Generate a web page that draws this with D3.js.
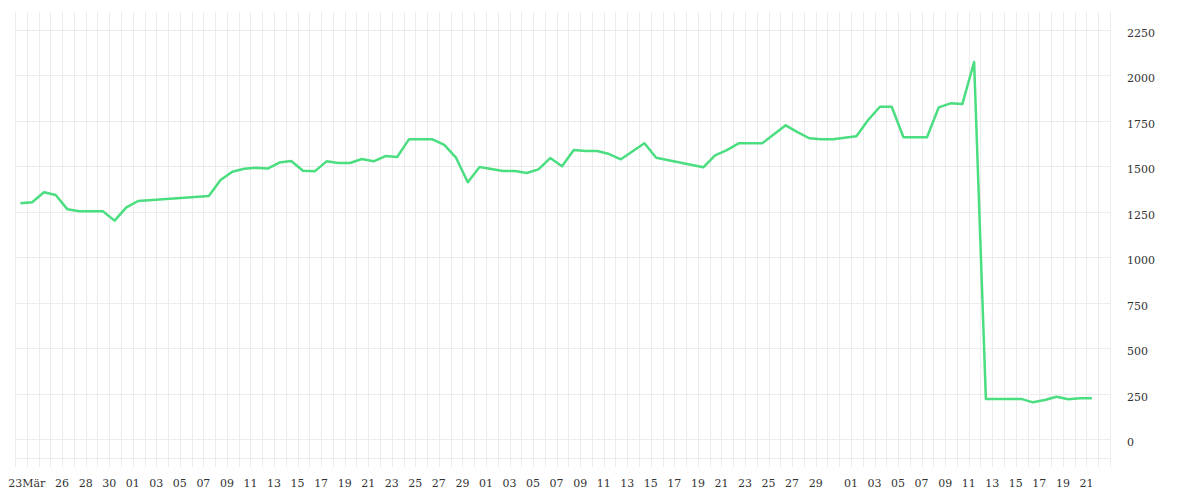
<!DOCTYPE html>
<html>
<head>
<meta charset="utf-8">
<script src="https://cdn.jsdelivr.net/npm/d3@7"></script>
<style>
  html, body { margin: 0; padding: 0; background: #fff; }
  #chart { width: 1200px; height: 500px; }
  text { font-family: "DejaVu Serif", serif; font-size: 11px; fill: #333; }
</style>
</head>
<body>
<div id="chart"></div>
<script>
// Messwerte (ein Wert pro Tag, Lücken = keine Daten)
const dates = [
  '2024-03-22', '2024-03-23', '2024-03-24', '2024-03-25', '2024-03-26', '2024-03-27', '2024-03-28',
  '2024-03-29', '2024-03-30', '2024-03-31', '2024-04-01', '2024-04-07', '2024-04-08', '2024-04-09',
  '2024-04-10', '2024-04-11', '2024-04-12', '2024-04-13', '2024-04-14', '2024-04-15', '2024-04-16',
  '2024-04-17', '2024-04-18', '2024-04-19', '2024-04-20', '2024-04-21', '2024-04-22', '2024-04-23',
  '2024-04-24', '2024-04-25', '2024-04-26', '2024-04-27', '2024-04-28', '2024-04-29', '2024-04-30',
  '2024-05-01', '2024-05-02', '2024-05-03', '2024-05-04', '2024-05-05', '2024-05-06', '2024-05-07',
  '2024-05-08', '2024-05-09', '2024-05-10', '2024-05-11', '2024-05-12', '2024-05-13', '2024-05-14',
  '2024-05-15', '2024-05-19', '2024-05-20', '2024-05-21', '2024-05-22', '2024-05-23', '2024-05-24',
  '2024-05-25', '2024-05-26', '2024-05-27', '2024-05-28', '2024-05-29', '2024-05-30', '2024-05-31',
  '2024-06-01', '2024-06-02', '2024-06-03', '2024-06-04', '2024-06-05', '2024-06-06', '2024-06-07',
  '2024-06-08', '2024-06-09', '2024-06-10', '2024-06-11', '2024-06-12', '2024-06-13', '2024-06-14',
  '2024-06-15', '2024-06-16', '2024-06-17', '2024-06-18', '2024-06-19', '2024-06-20', '2024-06-21'
];
const values = [
  1297, 1303, 1358, 1343, 1264, 1253, 1253,
  1253, 1202, 1275, 1310, 1337, 1425, 1471,
  1487, 1493, 1488, 1521, 1530, 1476, 1473,
  1528, 1519, 1519, 1541, 1528, 1557, 1552,
  1649, 1649, 1649, 1618, 1548, 1413, 1497,
  1486, 1475, 1475, 1464, 1484, 1546, 1501,
  1590, 1585, 1585, 1568, 1539, 1583, 1627,
  1548, 1495, 1561, 1590, 1627, 1627, 1627,
  1677, 1726, 1689, 1655, 1649, 1649, 1658,
  1666, 1755, 1828, 1828, 1660, 1660, 1660,
  1825, 1847, 1843, 2074, 222, 222, 222,
  222, 203, 216, 234, 220, 225, 225
];

// Achsenbeschriftungen
const xTickDates = [
  '2024-03-23', '2024-03-26', '2024-03-28', '2024-03-30',
  '2024-04-01', '2024-04-03', '2024-04-05', '2024-04-07', '2024-04-09', '2024-04-11', '2024-04-13', '2024-04-15',
  '2024-04-17', '2024-04-19', '2024-04-21', '2024-04-23', '2024-04-25', '2024-04-27', '2024-04-29',
  '2024-05-01', '2024-05-03', '2024-05-05', '2024-05-07', '2024-05-09', '2024-05-11', '2024-05-13', '2024-05-15',
  '2024-05-17', '2024-05-19', '2024-05-21', '2024-05-23', '2024-05-25', '2024-05-27', '2024-05-29',
  '2024-06-01', '2024-06-03', '2024-06-05', '2024-06-07', '2024-06-09', '2024-06-11', '2024-06-13', '2024-06-15',
  '2024-06-17', '2024-06-19', '2024-06-21'
];
const xTickLabels = [
  '23Mär', '26', '28', '30',
  '01', '03', '05', '07', '09', '11', '13', '15', '17', '19', '21', '23', '25', '27', '29',
  '01', '03', '05', '07', '09', '11', '13', '15', '17', '19', '21', '23', '25', '27', '29',
  '01', '03', '05', '07', '09', '11', '13', '15', '17', '19', '21'
];
const yTicks = [0, 250, 500, 750, 1000, 1250, 1500, 1750, 2000, 2250];

const width = 1200;
const height = 500;
const plot = { left: 15, right: 1110, top: 12, bottom: 458 };

const parseDay = d3.utcParse('%Y-%m-%d');
const data = dates.map((d, i) => ({
  date: d3.utcHour.offset(parseDay(d), 11),
  value: values[i]
}));

const x = d3.scaleUtc()
  .domain([parseDay('2024-03-22'), parseDay('2024-06-23')])
  .range([plot.left, plot.right]);

const y = d3.scaleLinear()
  .domain([-103, 2349])
  .range([plot.bottom, plot.top]);

const svg = d3.select('#chart').append('svg')
  .attr('width', width)
  .attr('height', height);

const grid = svg.append('g')
  .attr('stroke', '#ececec')
  .attr('stroke-width', 1)
  .attr('shape-rendering', 'crispEdges');

// vertikale Linien: jeder Tag, mit kleinem Strich unter der Fläche
grid.selectAll('line.v')
  .data(d3.utcDay.range(x.domain()[0], d3.utcDay.offset(x.domain()[1], 1)))
  .enter().append('line')
  .attr('class', 'v')
  .attr('x1', d => Math.round(x(d)) + 0.5)
  .attr('x2', d => Math.round(x(d)) + 0.5)
  .attr('y1', plot.top)
  .attr('y2', plot.bottom + 9);

// horizontale Linien
grid.selectAll('line.h')
  .data(yTicks)
  .enter().append('line')
  .attr('class', 'h')
  .attr('x1', plot.left)
  .attr('x2', plot.right)
  .attr('y1', d => Math.round(y(d)) + 0.5)
  .attr('y2', d => Math.round(y(d)) + 0.5);

grid.append('line')
  .attr('x1', plot.left)
  .attr('x2', plot.right)
  .attr('y1', plot.bottom + 0.5)
  .attr('y2', plot.bottom + 0.5);

// y-Achse rechts
svg.append('g')
  .selectAll('text')
  .data(yTicks)
  .enter().append('text')
  .attr('x', 1127)
  .attr('y', d => y(d) + 7)
  .text(d => d);

// x-Achse unten
svg.append('g')
  .selectAll('text')
  .data(xTickDates)
  .enter().append('text')
  .attr('x', d => x(parseDay(d)))
  .attr('y', 487)
  .attr('text-anchor', 'middle')
  .text((d, i) => xTickLabels[i]);

// Linie
const line = d3.line()
  .x(d => x(d.date))
  .y(d => y(d.value));

svg.append('path')
  .datum(data)
  .attr('fill', 'none')
  .attr('stroke', '#4ade80')
  .attr('stroke-width', 2.5)
  .attr('stroke-linejoin', 'round')
  .attr('d', line);
</script>
</body>
</html>
